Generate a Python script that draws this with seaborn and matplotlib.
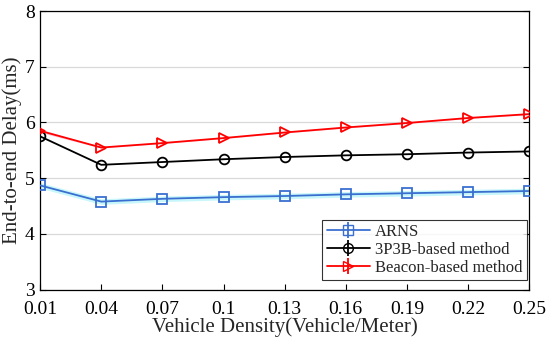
import matplotlib
matplotlib.use("Agg")
import matplotlib.pyplot as plt
import seaborn as sns
import pandas as pd

density = [0.01, 0.04, 0.07, 0.1, 0.13, 0.16, 0.19, 0.22, 0.25]
tick_labels = ["0.01", "0.04", "0.07", "0.1", "0.13", "0.16", "0.19", "0.22", "0.25"]
arns = [4.87, 4.58, 4.63, 4.66, 4.68, 4.71, 4.73, 4.75, 4.77]
p3b = [5.75, 5.24, 5.29, 5.34, 5.38, 5.41, 5.43, 5.46, 5.48]
beacon = [5.85, 5.55, 5.63, 5.72, 5.82, 5.91, 5.99, 6.08, 6.15]
arns_err = [0.05, 0.05, 0.05, 0.05, 0.05, 0.05, 0.05, 0.05, 0.05]
beacon_err = [0.03, 0.01, 0.01, 0.01, 0.01, 0.01, 0.01, 0.01, 0.01]

sns.set_theme(style="white")
plt.rcParams['font.family'] = ['Liberation Serif', 'DejaVu Serif']

methods = ["ARNS", "3P3B-based method", "Beacon-based method"]
df = pd.DataFrame({
    "x": density * 3,
    "y": arns + p3b + beacon,
    "method": [methods[0]] * 9 + [methods[1]] * 9 + [methods[2]] * 9,
})

colors = {"ARNS": "#3a6fd0", "3P3B-based method": "black", "Beacon-based method": "#ff0000"}
markers = {"ARNS": "s", "3P3B-based method": "o", "Beacon-based method": ">"}

fig, ax = plt.subplots(figsize=(5.5, 3.44), dpi=100)

# error bands
ax.fill_between(density, [a - e for a, e in zip(arns, arns_err)],
                [a + e for a, e in zip(arns, arns_err)], color="#c8f7fb", lw=0, zorder=1)
ax.fill_between(density, [a - e for a, e in zip(beacon, beacon_err)],
                [a + e for a, e in zip(beacon, beacon_err)], color="#ffc8d8", lw=0, zorder=1)

sns.lineplot(data=df, x="x", y="y", hue="method", style="method", palette=colors,
             markers=markers, dashes=False, markersize=7, markerfacecolor="none",
             markeredgewidth=1.3, linewidth=1.3, ax=ax, legend=False, zorder=3)

# hollow markers with edge colors
for line, m in zip(ax.get_lines(), methods):
    line.set_markeredgecolor(colors[m])
    line.set_markerfacecolor("none")

# legend with errorbar-style handles
handles = []
for m in methods:
    h = ax.errorbar([], [], yerr=[], color=colors[m], marker=markers[m], mfc="none",
                    mec=colors[m], ms=7, lw=1.3, capsize=3, label=m)
    handles.append(h)
leg = ax.legend(handles=handles, loc="lower right", fontsize=12, frameon=True,
                fancybox=False, edgecolor="black", borderpad=0.25, labelspacing=0.12,
                handlelength=2.6, handletextpad=0.3, borderaxespad=0,
                bbox_to_anchor=(0.995, 0.035))
leg.get_frame().set_linewidth(0.8)

ax.set_xlim(0.01, 0.25)
ax.set_ylim(3, 8)
ax.set_xticks(density)
ax.set_xticklabels(tick_labels)
ax.set_yticks([3, 4, 5, 6, 7, 8])
ax.yaxis.grid(True, color="#d9d9d9", linewidth=0.9)
ax.tick_params(direction="in", length=4, labelsize=14, colors="black", width=0.8,
               top=False, right=True, bottom=True, left=True)
ax.tick_params(axis="x", pad=8)
ax.tick_params(axis="y", pad=4)
for s in ax.spines.values():
    s.set_color("black")
    s.set_linewidth(0.9)
ax.set_xlabel("Vehicle Density(Vehicle/Meter)", fontsize=15, labelpad=0)
ax.set_ylabel("End-to-end Delay(ms)", fontsize=15, labelpad=2)

plt.subplots_adjust(left=0.073, right=0.962, top=0.968, bottom=0.158)
plt.savefig("out.png", dpi=100)
